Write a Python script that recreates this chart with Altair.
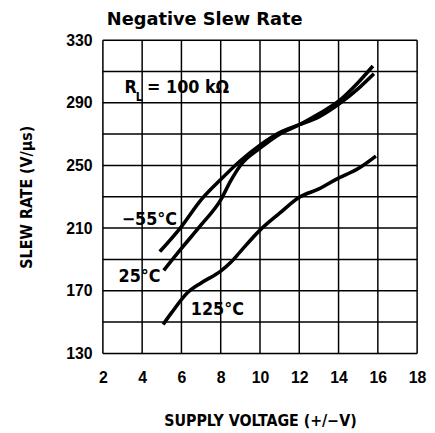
import altair as alt
import pandas as pd

# ---- data ----
m55_x = [4.9, 6.0, 7.0, 8.0, 9.0, 10.0, 11.0, 12.0, 13.0, 14.0, 15.0, 15.8]
m55_y = [195, 211, 228, 241, 253, 263, 271, 276, 281, 289, 299, 308.5]
t25_x = [5.1, 6.0, 7.0, 8.0, 8.5, 9.0, 10.0, 11.0, 12.0, 13.0, 14.0, 15.0, 15.75]
t25_y = [183, 197, 212, 228, 240, 250, 261, 270, 276, 283, 291, 303, 313.5]
t125_x = [5.07, 5.5, 6.33, 7.0, 8.0, 8.5, 9.0, 10.0, 11.0, 12.0, 13.0, 13.9, 15.0, 15.9]
t125_y = [148.5, 156, 169, 175, 182.5, 188, 195, 208.7, 219.5, 229.7, 235, 241.3, 248, 256]

x_ticks = [2, 4, 6, 8, 10, 12, 14, 16, 18]
y_grid = [130, 150, 170, 190, 210, 230, 250, 270, 290, 310, 330]
y_labels = [130, 170, 210, 250, 290, 330]

label_text = ["\u221255\u00b0C", "25\u00b0C", "125\u00b0C"]
label_x = [2.96, 2.8, 6.48]
label_y = [211.9, 175.5, 154.6]

title_text = "Negative Slew Rate"

rows = []
for name, xs_, ys_ in [("-55", m55_x, m55_y), ("25", t25_x, t25_y), ("125", t125_x, t125_y)]:
    for a, b in zip(xs_, ys_):
        rows.append({"series": name, "v": a, "sr": b})
df = pd.DataFrame(rows)
lab = pd.DataFrame({"t": label_text, "x": label_x, "y": label_y})

xs = alt.Scale(domain=[2, 18], nice=False, zero=False)
ys = alt.Scale(domain=[130, 330], nice=False, zero=False)

tick_font = "Liberation Sans"
narrow = "Liberation Sans Narrow, DejaVu Sans Condensed, Liberation Sans"

label_expr = "indexof([" + ",".join(str(v) for v in y_labels) + "], datum.value) >= 0 ? datum.label : ''"

vgrid = alt.Chart(pd.DataFrame({"g": x_ticks})).mark_rule(color="black", strokeWidth=1.5).encode(
    x=alt.X("g:Q", scale=xs))
hgrid = alt.Chart(pd.DataFrame({"g": y_grid})).mark_rule(color="black", strokeWidth=1.5).encode(
    y=alt.Y("g:Q", scale=ys))

lines = alt.Chart(df).mark_line(color="black", strokeWidth=3.6, interpolate="monotone").encode(
    x=alt.X("v:Q", scale=xs,
            axis=alt.Axis(values=x_ticks, tickCount=len(x_ticks) + 10,
                          title="SUPPLY VOLTAGE (+/\u2212V)", grid=False,
                          domain=False, ticks=False, labelPadding=16, labelFont=tick_font,
                          labelFontSize=16, labelFontWeight="bold", labelColor="black",
                          labelOverlap=False, labelFlush=False,
                          titleFont=narrow, titleFontSize=16, titleFontWeight="bold",
                          titleColor="black", titlePadding=28)),
    y=alt.Y("sr:Q", scale=ys,
            axis=alt.Axis(values=y_grid, tickCount=len(y_grid) + 10, labelExpr=label_expr,
                          title="SLEW RATE (V/\u03bcs)",
                          grid=False, domain=False, ticks=False, labelPadding=11,
                          labelFont=tick_font, labelOverlap=False, labelFlush=False,
                          labelFontSize=16, labelFontWeight="bold", labelColor="black",
                          titleFont=narrow, titleFontSize=16, titleFontWeight="bold",
                          titleColor="black", titlePadding=32)),
    detail="series:N",
)

labels = alt.Chart(lab).mark_text(align="left", baseline="alphabetic", font=narrow,
                                  fontSize=18, fontWeight="bold", color="black").encode(
    x=alt.X("x:Q", scale=xs), y=alt.Y("y:Q", scale=ys), text="t:N")

rl_df = pd.DataFrame({"t": ["R", "L", "= 100 k\u03a9"], "x": [3.1, 3.68, 4.25],
                      "y": [296.3, 291.3, 296.3], "s": [18, 12, 18]})
rl = alt.Chart(rl_df).mark_text(align="left", baseline="alphabetic", font=narrow,
                                fontWeight="bold", color="black").encode(
    x=alt.X("x:Q", scale=xs), y=alt.Y("y:Q", scale=ys), text="t:N",
    size=alt.Size("s:Q", scale=None, legend=None))

ttl = alt.Chart(pd.DataFrame({"t": [title_text], "x": [2.2], "y": [339.8]})).mark_text(
    align="left", baseline="alphabetic", font="DejaVu Sans", fontSize=18,
    fontWeight="bold", color="black").encode(
    x=alt.X("x:Q", scale=xs), y=alt.Y("y:Q", scale=ys), text="t:N")

chart = alt.layer(vgrid, hgrid, lines, labels, rl, ttl).properties(
    width=318, height=317,
    autosize=alt.AutoSizeParams(type="none"),
    padding={"left": 96, "top": 30, "right": 10, "bottom": 75},
).configure_view(stroke="black", strokeWidth=2.5).configure(background="white")

chart.save("out.html", embed_options={"renderer": "svg", "actions": False})
